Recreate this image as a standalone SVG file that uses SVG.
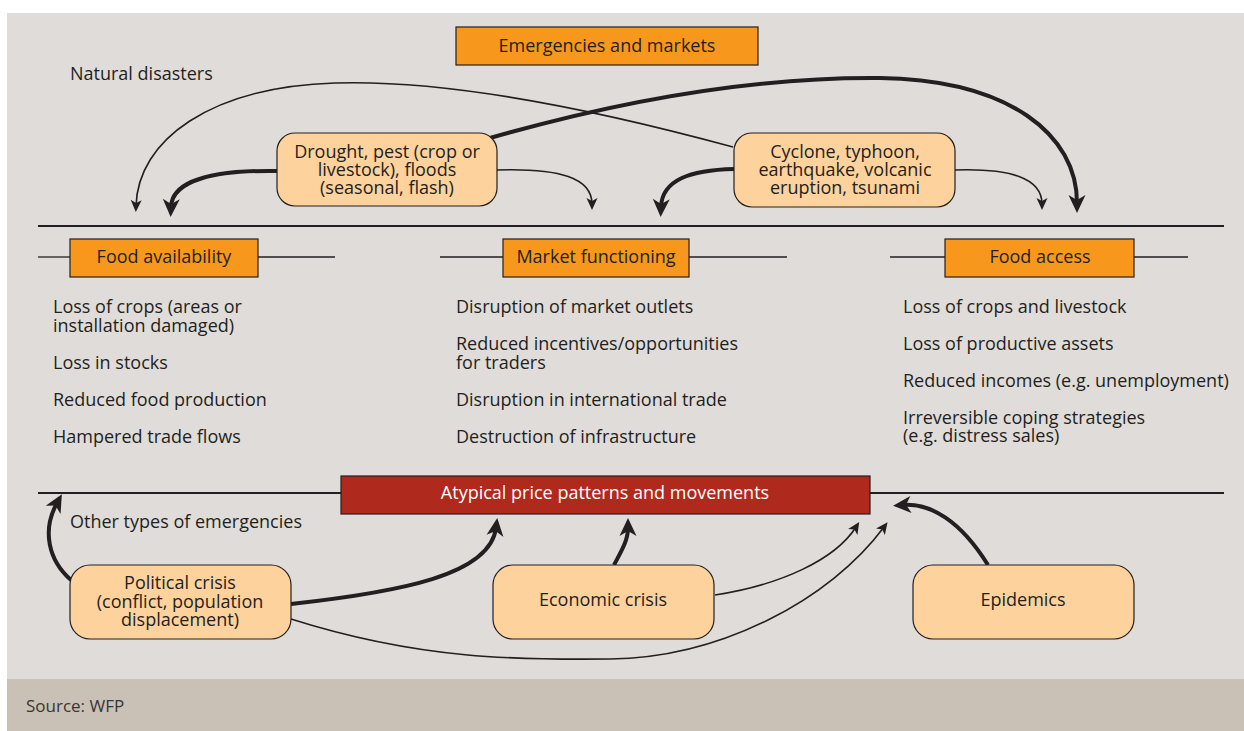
<svg xmlns="http://www.w3.org/2000/svg" width="1244" height="731" viewBox="0 0 1244 731">
  <style>
    text { font-family: "Open Sans", "Noto Sans", "Liberation Sans", sans-serif; font-size: 18px; fill: #231f20; }
    .mid { text-anchor: middle; }
    .white { fill: #ffffff; }
    .head { fill: #f7981d; stroke: #231f20; stroke-width: 1.2; }
    .node { fill: #fdd29c; stroke: #231f20; stroke-width: 1.2; }
    .rule { stroke: #231f20; stroke-width: 2; fill: none; }
    .tick { stroke: #231f20; stroke-width: 1.3; fill: none; }
    .thin { stroke: #231f20; stroke-width: 1.6; fill: none; marker-end: url(#head-thin); }
    .thick { stroke: #231f20; stroke-width: 4; fill: none; marker-end: url(#head-thick); }
  </style>
  <defs>
    <marker id="head-thin" markerUnits="userSpaceOnUse" markerWidth="20" markerHeight="20" refX="6" refY="0" orient="auto" overflow="visible">
      <path d="M 12 0 L 0 -5.5 L 3 0 L 0 5.5 Z" fill="#231f20"/>
    </marker>
    <marker id="head-thick" markerUnits="userSpaceOnUse" markerWidth="30" markerHeight="30" refX="8" refY="0" orient="auto" overflow="visible">
      <path d="M 18 0 L 0 -8.5 L 5 0 L 0 8.5 Z" fill="#231f20"/>
    </marker>
  </defs>

  <!-- panel and footer -->
  <rect x="0" y="0" width="1244" height="731" fill="#ffffff"/>
  <rect x="7" y="13" width="1237" height="666" fill="#e0dcd9"/>
  <rect x="7" y="679" width="1237" height="52" fill="#c9c0b6"/>
  <text x="26" y="712" style="fill:#3a3635; font-size:17px">Source: WFP</text>

  <!-- horizontal rules -->
  <line class="rule" x1="38" y1="226" x2="1224" y2="226"/>
  <line class="rule" x1="38" y1="493" x2="1224" y2="493"/>

  <!-- title -->
  <g id="title">
    <rect class="head" x="456" y="27" width="302" height="38"/>
    <text class="mid" x="607" y="52">Emergencies and markets</text>
  </g>

  <text x="70" y="80">Natural disasters</text>
  <text x="70" y="528">Other types of emergencies</text>

  <!-- connectors -->
  <g id="connectors">
    <path class="thin" d="M 733 147 C 560 100, 430 80, 335 83 C 210 87, 138 140, 136 206"/>
    <path class="thick" d="M 490 138 C 640 95, 770 77, 880 78 C 1010 80, 1077 135, 1077 203"/>
    <path class="thick" d="M 277 171 C 215 170, 172 180, 171 207"/>
    <path class="thin" d="M 497 170 C 560 168, 592 178, 592 204"/>
    <path class="thick" d="M 734 169 C 690 170, 662 180, 661 207"/>
    <path class="thin" d="M 954 170 C 1010 168, 1042 178, 1042 204"/>
    <path class="thick" d="M 71 580 C 48 560, 42 530, 57 503"/>
    <path class="thick" d="M 291 604 C 400 592, 490 575, 496 528"/>
    <path class="thin" d="M 291 619 C 420 660, 520 660, 610 659 C 720 658, 830 600, 884 527"/>
    <path class="thick" d="M 614 565 C 622 550, 628 540, 628 528"/>
    <path class="thin" d="M 715 595 C 780 585, 835 560, 856 527"/>
    <path class="thick" d="M 988 565 C 960 520, 930 503, 903 505"/>
  </g>

  <!-- natural disaster nodes -->
  <g id="drought">
    <rect class="node" x="277" y="133" width="220" height="73" rx="18"/>
    <text class="mid" x="387" y="158">Drought, pest (crop or</text>
    <text class="mid" x="387" y="176">livestock), floods</text>
    <text class="mid" x="387" y="194">(seasonal, flash)</text>
  </g>
  <g id="cyclone">
    <rect class="node" x="734" y="133" width="221" height="74" rx="18"/>
    <text class="mid" x="845" y="158">Cyclone, typhoon,</text>
    <text class="mid" x="845" y="176">earthquake, volcanic</text>
    <text class="mid" x="845" y="194">eruption, tsunami</text>
  </g>

  <!-- section headers -->
  <g id="food-availability">
    <line class="tick" x1="38" y1="257" x2="70" y2="257"/>
    <line class="tick" x1="258" y1="257" x2="335" y2="257"/>
    <rect class="head" x="70" y="239" width="188" height="38"/>
    <text class="mid" x="164" y="263">Food availability</text>
    <text x="53" y="313">Loss of crops (areas or</text>
    <text x="53" y="332">installation damaged)</text>
    <text x="53" y="369">Loss in stocks</text>
    <text x="53" y="406">Reduced food production</text>
    <text x="53" y="443">Hampered trade flows</text>
  </g>
  <g id="market-functioning">
    <line class="tick" x1="440" y1="257" x2="503" y2="257"/>
    <line class="tick" x1="689" y1="257" x2="787" y2="257"/>
    <rect class="head" x="503" y="239" width="186" height="38"/>
    <text class="mid" x="596" y="263">Market functioning</text>
    <text x="456" y="313">Disruption of market outlets</text>
    <text x="456" y="350">Reduced incentives/opportunities</text>
    <text x="456" y="369">for traders</text>
    <text x="456" y="406">Disruption in international trade</text>
    <text x="456" y="443">Destruction of infrastructure</text>
  </g>
  <g id="food-access">
    <line class="tick" x1="890" y1="257" x2="945" y2="257"/>
    <line class="tick" x1="1134" y1="257" x2="1188" y2="257"/>
    <rect class="head" x="945" y="239" width="189" height="38"/>
    <text class="mid" x="1040" y="263">Food access</text>
    <text x="903" y="313">Loss of crops and livestock</text>
    <text x="903" y="350">Loss of productive assets</text>
    <text x="903" y="387">Reduced incomes (e.g. unemployment)</text>
    <text x="903" y="424">Irreversible coping strategies</text>
    <text x="903" y="442">(e.g. distress sales)</text>
  </g>

  <!-- outcome -->
  <g id="atypical-prices">
    <rect x="341" y="476" width="529" height="38" fill="#b0291d" stroke="#231f20" stroke-width="1.2"/>
    <text class="mid white" x="605" y="499">Atypical price patterns and movements</text>
  </g>

  <!-- other emergencies -->
  <g id="political-crisis">
    <rect class="node" x="70" y="565" width="221" height="74" rx="20"/>
    <text class="mid" x="180" y="589">Political crisis</text>
    <text class="mid" x="180" y="608">(conflict, population</text>
    <text class="mid" x="180" y="626">displacement)</text>
  </g>
  <g id="economic-crisis">
    <rect class="node" x="493" y="565" width="221" height="74" rx="20"/>
    <text class="mid" x="603" y="606">Economic crisis</text>
  </g>
  <g id="epidemics">
    <rect class="node" x="913" y="565" width="221" height="74" rx="20"/>
    <text class="mid" x="1023" y="606">Epidemics</text>
  </g>
</svg>
